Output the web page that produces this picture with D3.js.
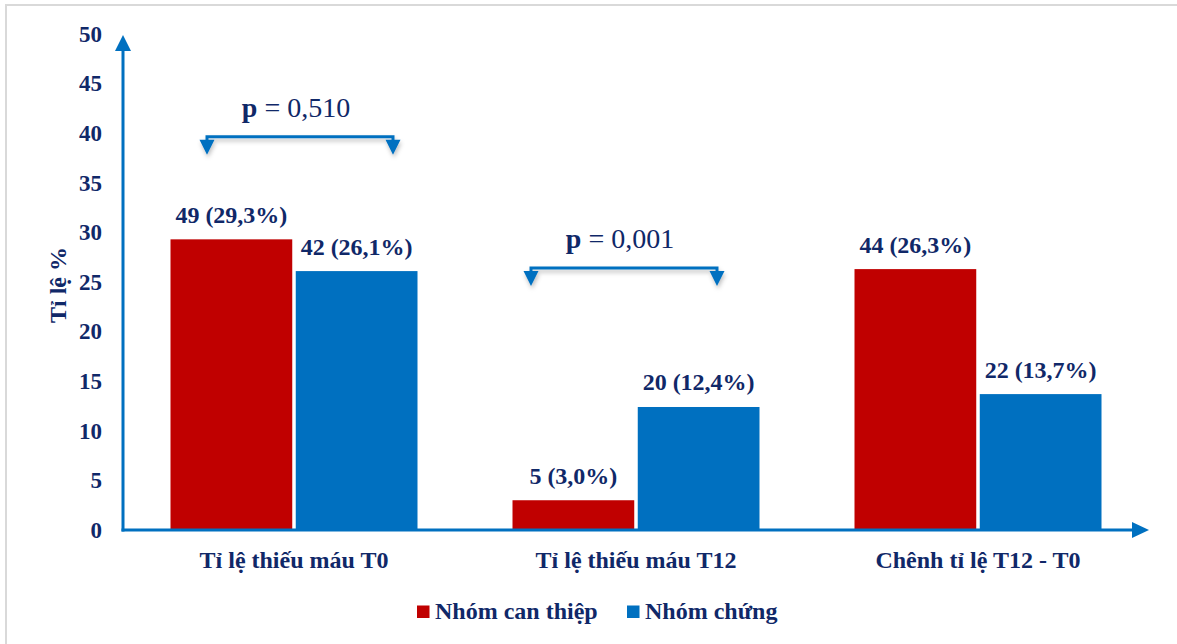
<!DOCTYPE html>
<html>
<head>
<meta charset="utf-8">
<script src="https://cdn.jsdelivr.net/npm/d3@7"></script>
<style>
  body { margin: 0; background: #fff; }
</style>
</head>
<body>
<svg id="chart"></svg>
<script>
// data
var categories = ["Tỉ lệ thiếu máu T0", "Tỉ lệ thiếu máu T12", "Chênh tỉ lệ T12 - T0"];
var seriesNames = ["Nhóm can thiệp", "Nhóm chứng"];
var canThiep = [29.3, 3.0, 26.3];
var chung = [26.1, 12.4, 13.7];
var canThiepLabels = ["49 (29,3%)", "5 (3,0%)", "44 (26,3%)"];
var chungLabels = ["42 (26,1%)", "20 (12,4%)", "22 (13,7%)"];
var yTicks = [0, 5, 10, 15, 20, 25, 30, 35, 40, 45, 50];
var pGroups = [0, 1];
var pLevels = [39.65, 26.4];
var pValues = ["0,510", "0,001"];

var width = 1177, height = 644;
var font = "'Liberation Serif', 'Times New Roman', Times, serif";
var navy = "#102868";
var svg = d3.select("#chart").attr("width", width).attr("height", height)
  .attr("font-family", font);

var colors = ["#c00000", "#0070c0"];
var axisColor = "#0070c0";

// outer frame
svg.append("rect")
  .attr("x", 6).attr("y", 5)
  .attr("width", width).attr("height", height)
  .attr("fill", "none")
  .attr("stroke", "#d9d9d9")
  .attr("stroke-width", 2);

var x = d3.scaleBand().domain(categories).range([123, 1149]);
var y = d3.scaleLinear().domain([0, 50]).range([530, 34]);
var x1 = d3.scaleBand().domain(seriesNames).range([47.5, x.bandwidth() - 47.5]).paddingInner(0.028);

// y tick labels
svg.append("g").selectAll("text")
  .data(yTicks)
  .enter()
  .append("text")
  .attr("x", 102)
  .attr("y", function (d) { return y(d); })
  .attr("dy", "0.34em")
  .attr("text-anchor", "end")
  .attr("font-size", 23)
  .attr("font-weight", "bold")
  .attr("fill", navy)
  .text(function (d) { return d; });

// y axis title
svg.append("text")
  .attr("transform", "translate(66,285) rotate(-90)")
  .attr("text-anchor", "middle")
  .attr("font-size", 24)
  .attr("font-weight", "bold")
  .attr("fill", navy)
  .text("Tỉ lệ %");

// bars
var rows = categories.map(function (c, i) {
  return [
    { cat: c, s: seriesNames[0], v: canThiep[i], lab: canThiepLabels[i], col: colors[0] },
    { cat: c, s: seriesNames[1], v: chung[i], lab: chungLabels[i], col: colors[1] }
  ];
});

var grp = svg.append("g").selectAll("g")
  .data(rows)
  .enter()
  .append("g")
  .attr("transform", function (d) { return "translate(" + x(d[0].cat) + ",0)"; });

grp.selectAll("rect")
  .data(function (d) { return d; })
  .enter()
  .append("rect")
  .attr("x", function (d) { return x1(d.s); })
  .attr("y", function (d) { return y(d.v); })
  .attr("width", x1.bandwidth())
  .attr("height", function (d) { return y(0) - y(d.v); })
  .attr("fill", function (d) { return d.col; });

grp.selectAll("text")
  .data(function (d) { return d; })
  .enter()
  .append("text")
  .attr("x", function (d) { return x1(d.s) + x1.bandwidth() / 2; })
  .attr("y", function (d) { return y(d.v) - 16.5; })
  .attr("text-anchor", "middle")
  .attr("font-size", 24)
  .attr("font-weight", "bold")
  .attr("fill", navy)
  .text(function (d) { return d.lab; });

// axes with arrows
var axes = svg.append("g");
axes.append("line")
  .attr("x1", 123).attr("y1", y(0) + 1.5)
  .attr("x2", 123).attr("y2", 48)
  .attr("stroke", axisColor).attr("stroke-width", 3);
axes.append("path")
  .attr("d", "M115,51 L123,35 L131,51 Z")
  .attr("fill", axisColor);
axes.append("line")
  .attr("x1", 121.5).attr("y1", y(0))
  .attr("x2", 1135).attr("y2", y(0))
  .attr("stroke", axisColor).attr("stroke-width", 3);
axes.append("path")
  .attr("d", "M1132,522 L1149,530 L1132,538 Z")
  .attr("fill", axisColor);

// category labels
svg.append("g").selectAll("text")
  .data(categories)
  .enter()
  .append("text")
  .attr("x", function (d) { return x(d) + x.bandwidth() / 2; })
  .attr("y", 568)
  .attr("text-anchor", "middle")
  .attr("font-size", 24)
  .attr("font-weight", "bold")
  .attr("fill", navy)
  .text(function (d) { return d; });

// p-value brackets
var defs = svg.append("defs");
var f = defs.append("filter").attr("id", "shadow").attr("x", "-10%").attr("y", "-50%").attr("width", "120%").attr("height", "300%");
f.append("feDropShadow").attr("dx", 1).attr("dy", 3).attr("stdDeviation", 2).attr("flood-color", "#000").attr("flood-opacity", 0.25);

var pShift = [6, -12];
pGroups.forEach(function (gi, i) {
  var cx = x(categories[gi]) + x.bandwidth() / 2 + pShift[i];
  var ly = y(pLevels[i]);
  var x0 = cx - 93, x2 = cx + 93;
  var b = svg.append("g").attr("filter", "url(#shadow)");
  b.append("path")
    .attr("d", "M" + x0 + "," + (ly + 6) + " L" + x0 + "," + ly + " L" + x2 + "," + ly + " L" + x2 + "," + (ly + 6))
    .attr("fill", "none")
    .attr("stroke", axisColor)
    .attr("stroke-width", 3);
  [x0, x2].forEach(function (xx) {
    b.append("path")
      .attr("d", "M" + (xx - 7.5) + "," + (ly + 3) + " L" + (xx + 7.5) + "," + (ly + 3) + " L" + xx + "," + (ly + 18) + " Z")
      .attr("fill", axisColor);
  });
  var t = svg.append("text")
    .attr("x", cx - 4)
    .attr("y", ly - 20)
    .attr("text-anchor", "middle")
    .attr("font-size", 28)
    .attr("fill", navy);
  t.append("tspan").attr("font-weight", "bold").text("p");
  t.append("tspan").text(" = " + pValues[i]);
});

// legend
var legendX = [417, 627];
var lg = svg.append("g").selectAll("g")
  .data(seriesNames)
  .enter()
  .append("g")
  .attr("transform", function (d, i) { return "translate(" + legendX[i] + ",605.5)"; });
lg.append("rect")
  .attr("width", 12.5).attr("height", 12.5)
  .attr("fill", function (d, i) { return colors[i]; });
lg.append("text")
  .attr("x", 18)
  .attr("y", 13.5)
  .attr("font-size", 24)
  .attr("font-weight", "bold")
  .attr("fill", navy)
  .text(function (d) { return d; });
</script>
</body>
</html>
